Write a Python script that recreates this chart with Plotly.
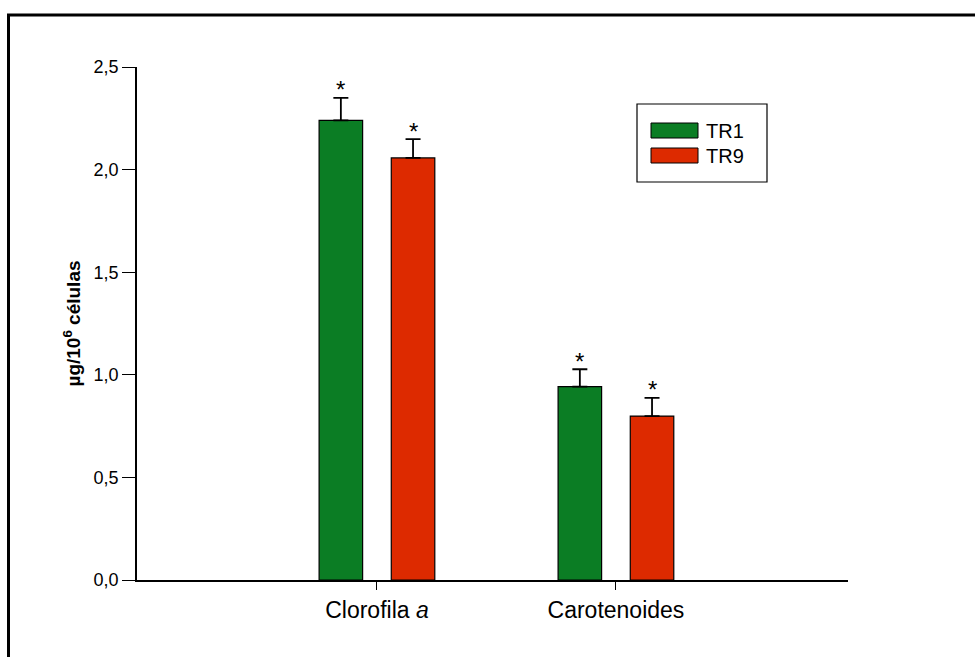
import plotly.graph_objects as go

categories = ["Clorofila a", "Carotenoides"]
tick_labels = ["Clorofila <i>a</i>", "Carotenoides"]
series_names = ["TR1", "TR9"]
tr1_values = [2.24, 0.942]
tr1_errors = [0.11, 0.085]
tr9_values = [2.057, 0.799]
tr9_errors = [0.092, 0.089]
colors = ["#0b7d24", "#dd2a00"]

FONT = "Arial, Liberation Sans, sans-serif"

# layout in pixels
W, H = 975, 657
L, R, T, B = 137, 975 - 848, 67, 657 - 580
plot_w = W - L - R
plot_h = H - T - B

bargap = 0.396
bargroupgap = 0.397
x_range = [-1.004, 1.971]
px_per_unit = plot_w / (x_range[1] - x_range[0])
slot = (1 - bargap) / 2

fig = go.Figure()
series = [(tr1_values, tr1_errors), (tr9_values, tr9_errors)]
for i, (vals, errs) in enumerate(series):
    fig.add_trace(go.Bar(
        x=categories, y=vals, name=series_names[i],
        marker=dict(color=colors[i], line=dict(color="black", width=1.2)),
        error_y=dict(type="data", symmetric=False, array=errs,
                     arrayminus=[0] * len(errs), color="black",
                     thickness=1.8, width=7.5),
        showlegend=False,
    ))

annotations = []
for i, (vals, errs) in enumerate(series):
    shift = (i - 0.5) * slot * px_per_unit
    for c, v, e in zip(categories, vals, errs):
        annotations.append(dict(
            x=c, y=v + e, xref="x", yref="y", text="*", showarrow=False,
            xshift=shift, yshift=8, font=dict(family=FONT, size=24, color="black"),
        ))

def px_x(p):
    return (p - L) / plot_w

def px_y(p):
    return (H - B - p) / plot_h

shapes = [
    # outer frame
    dict(type="rect", xref="paper", yref="paper",
         x0=px_x(8.5), x1=px_x(990), y0=px_y(670), y1=px_y(15),
         line=dict(color="black", width=3), fillcolor="rgba(0,0,0,0)", layer="below"),
    # legend box
    dict(type="rect", xref="paper", yref="paper",
         x0=px_x(637), x1=px_x(767), y0=px_y(182), y1=px_y(104),
         line=dict(color="black", width=1.2), fillcolor="white"),
]
swatch_rows = [(123, 138), (148, 163)]
for i, (ya, yb) in enumerate(swatch_rows):
    shapes.append(dict(type="rect", xref="paper", yref="paper",
                       x0=px_x(651), x1=px_x(698), y0=px_y(yb), y1=px_y(ya),
                       line=dict(color="black", width=1), fillcolor=colors[i]))
    annotations.append(dict(x=px_x(704), y=px_y((ya + yb) / 2), xref="paper", yref="paper",
                            text=series_names[i], showarrow=False, xanchor="left",
                            yanchor="middle", font=dict(family=FONT, size=20, color="black")))

fig.update_layout(
    width=W, height=H,
    margin=dict(l=L, r=R, t=T, b=B, autoexpand=False),
    paper_bgcolor="white", plot_bgcolor="white",
    barmode="group", bargap=bargap, bargroupgap=bargroupgap,
    font=dict(family=FONT, size=18, color="black"),
    shapes=shapes, annotations=annotations,
    xaxis=dict(
        type="category", range=x_range,
        tickvals=categories, ticktext=tick_labels,
        showline=True, linecolor="black", linewidth=1.8,
        ticks="outside", ticklen=8, tickwidth=1.4, tickcolor="black",
        showgrid=False, zeroline=False,
        tickfont=dict(family=FONT, size=23, color="black"),
    ),
    yaxis=dict(
        range=[0, 2.5], tickvals=[0, 0.5, 1, 1.5, 2, 2.5],
        ticktext=["0,0", "0,5", "1,0", "1,5", "2,0", "2,5"],
        showline=True, linecolor="black", linewidth=1.8,
        ticks="outside", ticklen=13, tickwidth=1.4, tickcolor="black",
        showgrid=False, zeroline=False,
        tickfont=dict(family=FONT, size=18, color="black"),
        title=dict(text="<b>µg/10<sup>6</sup> células</b>",
                   font=dict(family=FONT, size=19, color="black"), standoff=8),
    ),
)

fig.write_html("out.html", config={"displayModeBar": False},
               post_script="document.body.style.margin='0px';")
